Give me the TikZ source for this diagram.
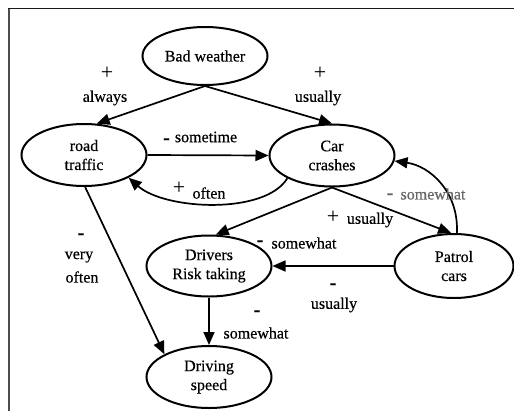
\documentclass[tikz,border=0pt]{standalone}
\usepackage{fontspec}
\setmainfont{Liberation Serif}[FakeBold=0.45]
\newfontfamily\plainserif{Liberation Serif}
\usetikzlibrary{shapes.geometric,arrows.meta}
\begin{document}
\begin{tikzpicture}[x=1pt,y=-1pt,
  font=\fontsize{16}{19}\selectfont,
  factor/.style={draw,ellipse,line width=2pt,inner sep=0pt,
    minimum width=125pt,minimum height=62pt,align=center},
  link/.style={line width=1.7pt,-{Triangle[length=13pt,width=11pt]}},
  tag/.style={inner sep=0pt,anchor=center},
  faint/.style={tag,text=black!60},
  minus/.style={inner sep=0pt,anchor=base,font=\fontsize{20}{20}\selectfont\bfseries},
  plus/.style={inner sep=0pt,anchor=base,font=\plainserif\fontsize{22}{22}\selectfont}]
  \useasboundingbox (0,0) rectangle (514,410);
  % frame edges
  \draw[line width=2pt,black!70] (8.5,411) -- (8.5,8.5);
  \draw[line width=1.8pt,black!90] (7.5,8.5) -- (515,8.5);

  % factors
  \node[factor,minimum height=58pt] (bw) at (205,56) {Bad weather};
  \node[factor] (rt) at (84,155) {road\\traffic};
  \node[factor] (cc) at (332,155.5) {Car\\crashes};
  \node[factor,minimum height=61pt] (dr) at (209,266) {Drivers\\Risk taking};
  \node[factor,minimum width=119pt,minimum height=64pt] (pc) at (454,266) {Patrol\\cars};
  \node[factor] (ds) at (209,377) {Driving\\speed};

  % influences
  \draw[link] (bw.south) -- (rt.68);
  \draw[link] (bw.south) -- (cc.north);
  \draw[link] (rt.east) -- (cc.west);
  \draw[link] (cc.207) .. controls (265,215) and (165,210) .. (rt.333);
  \draw[link] (rt.272) -- (ds.153);
  \draw[link] (cc.south) -- (dr.78);
  \draw[link] (cc.south) -- (pc.95);
  \draw[link] (pc.85) .. controls (459,192) and (430,166) .. (cc.355);
  \draw[link] (pc.west) -- (dr.east);
  \draw[link] (dr.south) -- (ds.north);

  % link labels
  \node[plus] (l1s) at (107,79.5) {+};
  \node[tag] (l1w) at (105,98) {always};
  \node[plus] (l2s) at (320,79.5) {+};
  \node[tag] (l2w) at (318,98) {usually};
  \node[minus] (l3s) at (166.5,144) {-};
  \node[tag] (l3w) at (206,137) {sometime};
  \node[plus] (l4s) at (179,194.5) {+};
  \node[tag] (l4w) at (209,193) {often};
  \node[minus] (l5s) at (81,239) {-};
  \node[tag] (l5a) at (79,257) {very};
  \node[tag] (l5b) at (82,277) {often};
  \node[plus] (l6s) at (333,223) {+};
  \node[tag] (l6w) at (370,220) {usually};
  \node[minus] (l7s) at (260,246) {-};
  \node[tag] (l7w) at (304,243) {somewhat};
  \node[minus,text=black!60] (l8s) at (390,199) {-};
  \node[faint] (l8w) at (433,194) {somewhat};
  \node[minus] (l9s) at (333,289) {-};
  \node[tag] (l9w) at (334,305) {usually};
  \node[minus] (l10s) at (257,316) {-};
  \node[tag] (l10w) at (256,333) {somewhat};
\end{tikzpicture}
\end{document}
